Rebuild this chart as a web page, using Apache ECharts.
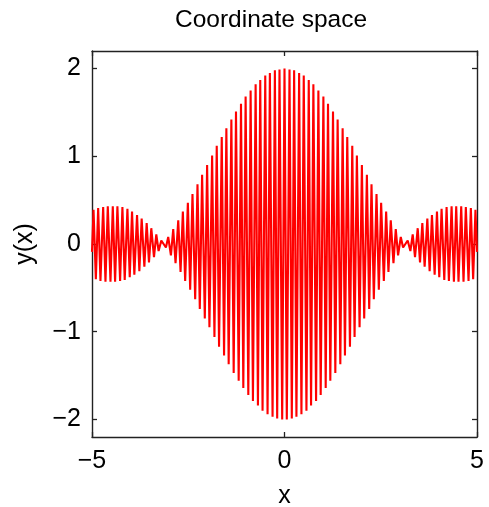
<!DOCTYPE html>
<html>
<head>
<meta charset="utf-8">
<title>Coordinate space</title>
<script src="https://cdn.jsdelivr.net/npm/echarts@6/dist/echarts.min.js"></script>
<style>
  html, body { margin: 0; padding: 0; background: #ffffff; }
  #chart { width: 489px; height: 507px; }
</style>
</head>
<body>
<div id="chart"></div>
<script>
// Crest positions (x) of the oscillation, from x = -5 to x = 5
const crestX = [
  -5.00,
  -4.96, -4.90, -4.84, -4.78, -4.71, -4.65, -4.59, -4.52, -4.46, -4.40,
  -4.34, -4.27, -4.21, -4.15, -4.08, -4.02, -3.96, -3.90, -3.83, -3.77,
  -3.71, -3.64, -3.58, -3.52, -3.46, -3.39, -3.33, -3.27, -3.20, -3.14,
  -3.08, -3.02, -2.95, -2.89, -2.83, -2.76, -2.70, -2.64, -2.58, -2.51,
  -2.45, -2.39, -2.32, -2.26, -2.20, -2.14, -2.07, -2.01, -1.95, -1.88,
  -1.82, -1.76, -1.70, -1.63, -1.57, -1.51, -1.45, -1.38, -1.32, -1.26,
  -1.19, -1.13, -1.07, -1.01, -0.94, -0.88, -0.82, -0.75, -0.69, -0.63,
  -0.57, -0.50, -0.44, -0.38, -0.31, -0.25, -0.19, -0.13, -0.06,
  0.00,
  0.06, 0.13, 0.19, 0.25, 0.31, 0.38, 0.44, 0.50, 0.57, 0.63,
  0.69, 0.75, 0.82, 0.88, 0.94, 1.01, 1.07, 1.13, 1.19, 1.26,
  1.32, 1.38, 1.45, 1.51, 1.57, 1.63, 1.70, 1.76, 1.82, 1.88,
  1.95, 2.01, 2.07, 2.14, 2.20, 2.26, 2.32, 2.39, 2.45, 2.51,
  2.58, 2.64, 2.70, 2.76, 2.83, 2.89, 2.95, 3.02, 3.08, 3.14,
  3.20, 3.27, 3.33, 3.39, 3.46, 3.52, 3.58, 3.64, 3.71, 3.77,
  3.83, 3.90, 3.96, 4.02, 4.08, 4.15, 4.21, 4.27, 4.34, 4.40,
  4.46, 4.52, 4.59, 4.65, 4.71, 4.78, 4.84, 4.90, 4.96,
  5.00
];

// Value of y(x) at each crest (alternating peaks and troughs)
const crestY = [
  -0.09,
  0.39, -0.40, 0.41, -0.42, 0.42, -0.43, 0.43, -0.43, 0.43, -0.43,
  0.43, -0.42, 0.42, -0.41, 0.40, -0.38, 0.37, -0.35, 0.33, -0.31,
  0.29, -0.26, 0.24, -0.21, 0.18, -0.15, 0.11, -0.08, 0.04, 0.00,
  -0.04, 0.08, -0.13, 0.17, -0.22, 0.27, -0.32, 0.37, -0.42, 0.47,
  -0.52, 0.57, -0.63, 0.68, -0.74, 0.79, -0.85, 0.90, -0.95, 1.01,
  -1.06, 1.12, -1.17, 1.22, -1.27, 1.32, -1.37, 1.42, -1.47, 1.51,
  -1.56, 1.60, -1.64, 1.68, -1.72, 1.75, -1.79, 1.82, -1.84, 1.87,
  -1.90, 1.92, -1.94, 1.95, -1.97, 1.98, -1.99, 1.99, -2.00,
  2.00,
  -2.00, 1.99, -1.99, 1.98, -1.97, 1.95, -1.94, 1.92, -1.90, 1.87,
  -1.84, 1.82, -1.79, 1.75, -1.72, 1.68, -1.64, 1.60, -1.56, 1.51,
  -1.47, 1.42, -1.37, 1.32, -1.27, 1.22, -1.17, 1.12, -1.06, 1.01,
  -0.95, 0.90, -0.85, 0.79, -0.74, 0.68, -0.63, 0.57, -0.52, 0.47,
  -0.42, 0.37, -0.32, 0.27, -0.22, 0.17, -0.13, 0.08, -0.04, 0.00,
  0.04, -0.08, 0.11, -0.15, 0.18, -0.21, 0.24, -0.26, 0.29, -0.31,
  0.33, -0.35, 0.37, -0.38, 0.40, -0.41, 0.42, -0.42, 0.43, -0.43,
  0.43, -0.43, 0.43, -0.43, 0.42, -0.42, 0.41, -0.40, 0.39,
  -0.09
];

const xTicks = [-5, 0, 5];
const yTicks = [-2, -1, 0, 1, 2];
const titleText = 'Coordinate space';
const xName = 'x';
const yName = 'y(x)';

const FONT = '"Liberation Sans", Arial, Helvetica, sans-serif';
const AXIS_COLOR = '#222222';

const points = crestX.map((x, i) => [x, crestY[i]]);

const fmt = v => (v < 0 ? '\u2212' + Math.abs(v) : String(v));

const chart = echarts.init(document.getElementById('chart'), null, { renderer: 'canvas' });

const boxAxisLine = { show: true, onZero: false, lineStyle: { color: AXIS_COLOR, width: 1.4 } };
const tickStyle = { color: AXIS_COLOR, width: 1.3 };

chart.setOption({
  animation: false,
  backgroundColor: '#ffffff',
  title: {
    text: titleText,
    left: 266,
    top: 3,
    textAlign: 'center',
    textStyle: { fontFamily: FONT, fontSize: 24.5, fontWeight: 'normal', color: '#000000' }
  },
  grid: { left: 92, right: 12, top: 51, bottom: 70, containLabel: false, outerBoundsMode: 'none' },
  xAxis: [
    {
      type: 'value', min: -5, max: 5, position: 'bottom',
      axisLine: boxAxisLine,
      axisTick: { show: true, inside: true, length: 5, customValues: xTicks, lineStyle: tickStyle },
      axisLabel: { show: true, customValues: xTicks, formatter: fmt, margin: 12,
        fontFamily: FONT, fontSize: 25, color: '#000000' },
      splitLine: { show: false },
      name: xName, nameLocation: 'middle', nameGap: 47,
      nameTextStyle: { fontFamily: FONT, fontSize: 25, color: '#000000' }
    },
    {
      type: 'value', min: -5, max: 5, position: 'top',
      axisLine: boxAxisLine,
      axisTick: { show: true, inside: true, length: 5, customValues: xTicks, lineStyle: tickStyle },
      axisLabel: { show: false },
      splitLine: { show: false }
    }
  ],
  yAxis: [
    {
      type: 'value', min: -2.2, max: 2.2, position: 'left',
      axisLine: boxAxisLine,
      axisTick: { show: true, inside: true, length: 5, customValues: yTicks, lineStyle: tickStyle },
      axisLabel: { show: true, customValues: yTicks, formatter: fmt, margin: 11,
        fontFamily: FONT, fontSize: 25, color: '#000000' },
      splitLine: { show: false },
      name: yName, nameLocation: 'middle', nameGap: 54, nameRotate: 90,
      nameTextStyle: { fontFamily: FONT, fontSize: 25, color: '#000000' }
    },
    {
      type: 'value', min: -2.2, max: 2.2, position: 'right',
      axisLine: boxAxisLine,
      axisTick: { show: true, inside: true, length: 5, customValues: yTicks, lineStyle: tickStyle },
      axisLabel: { show: false },
      splitLine: { show: false }
    }
  ],
  series: [
    {
      type: 'line',
      xAxisIndex: 0,
      yAxisIndex: 0,
      data: points,
      showSymbol: false,
      smooth: false,
      lineStyle: { color: '#ff0000', width: 2.1 },
      z: 1
    }
  ]
});
</script>
</body>
</html>
